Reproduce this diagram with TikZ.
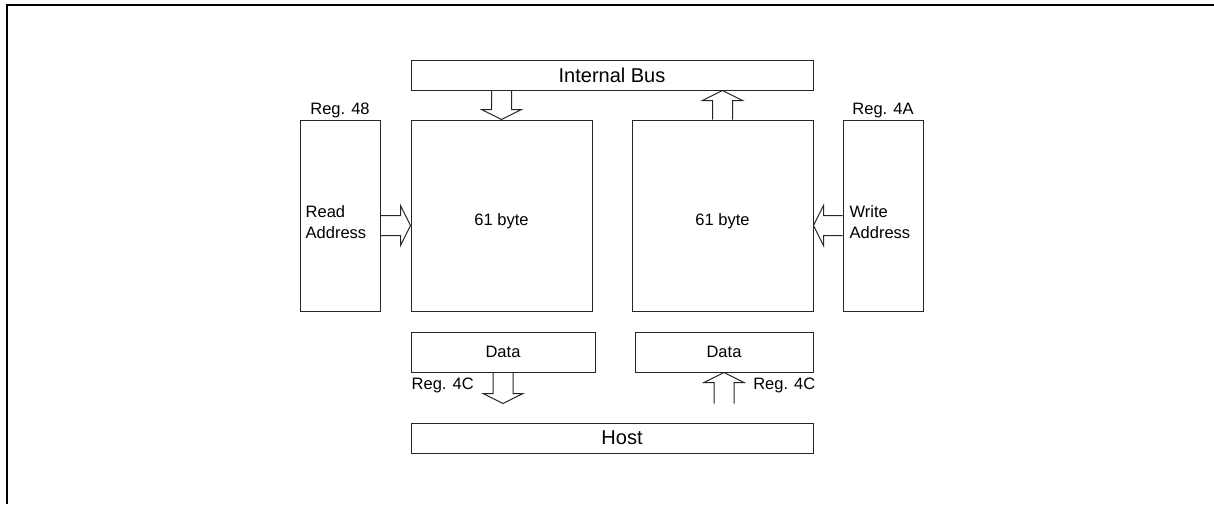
\documentclass[tikz,border=0pt]{standalone}
\usepackage{fontspec}
\setmainfont{Liberation Sans}
\usetikzlibrary{positioning,calc}

\tikzset{
  box/.style={draw=black!85, line width=1pt, inner sep=0pt, font=\fontsize{16.5}{20}\selectfont},
  txt/.style={font=\fontsize{16.5}{21}\selectfont, inner sep=0pt},
  bigtxt/.style={font=\fontsize{20}{24}\selectfont, inner sep=0pt},
  fat/.style={draw=black!85, line width=1pt, line join=miter},
}

% hollow block arrow from #1 to #2
\newcommand{\fatarrow}[2]{%
  \path ($(#2)!10pt!(#1)$) coordinate (hb);
  \draw[fat] ($(#1)!10pt!90:(#2)$) -- ($(hb)!10pt!90:(#2)$) -- ($(hb)!20pt!90:(#2)$) -- (#2)
    -- ($(hb)!20pt!-90:(#2)$) -- ($(hb)!10pt!-90:(#2)$) -- ($(#1)!10pt!-90:(#2)$);
}

\begin{document}
\begin{tikzpicture}[x=1pt,y=-1pt]
  \useasboundingbox (0,0) rectangle (1214,504);

  % frame
  \draw[line width=2.2pt] (7,504) -- (7,5) -- (1214,5);

  % buses
  \node[box, bigtxt, draw=black!85, minimum width=402pt, minimum height=30pt] (bus) at (612,75) {Internal Bus};
  \node[box, minimum width=402pt, minimum height=30pt] (host) at (612,438) {};
  \node[bigtxt] (hosttxt) at ([xshift=10pt]host.center) {Host};

  % registers and memories
  \node[box, minimum width=80pt, minimum height=191pt] (reg48) at (340,215.5) {};
  \node[box, minimum width=181pt, minimum height=191pt] (mem1) at (501.5,215.5) {};
  \node[box, minimum width=181pt, minimum height=191pt] (mem2) at (722.5,215.5) {};
  \node[box, minimum width=80pt, minimum height=191pt] (reg4a) at (883,215.5) {};

  \node[txt, above=1.5pt of reg48] (reg48lbl) {Reg. 48};
  \node[txt, above=1.5pt of reg4a] (reg4albl) {Reg. 4A};
  \node[txt, align=left, anchor=west] (readtxt) at ([xshift=6pt,yshift=-7pt]reg48.west) {Read\\Address};
  \node[txt, align=left, anchor=west] (writetxt) at ([xshift=7pt,yshift=-7pt]reg4a.west) {Write\\Address};
  \node[txt] (mem1txt) at ([yshift=-5.5pt]mem1.center) {61 byte};
  \node[txt] (mem2txt) at ([yshift=-5.5pt]mem2.center) {61 byte};

  % data registers
  \node[box, minimum width=184pt, minimum height=40pt] (data1) at (503,352) {Data};
  \node[box, minimum width=178pt, minimum height=40pt] (data2) at (724,352) {Data};
  \node[txt, anchor=base west] (reg4cl) at ([xshift=1pt,yshift=-17pt]data1.south west) {Reg. 4C};
  \node[txt, anchor=base east] (reg4cr) at ([xshift=2pt,yshift=-17pt]data2.south east) {Reg. 4C};

  % arrows
  \coordinate (busa) at (bus.south -| mem1.north);
  \coordinate (busb) at (bus.south -| mem2.north);
  \coordinate (rda) at ([yshift=-10pt]reg48.east);
  \coordinate (rdb) at ([yshift=-10pt]mem1.west);
  \coordinate (wra) at ([yshift=-10pt]reg4a.west);
  \coordinate (wrb) at ([yshift=-10pt]mem2.east);
  \coordinate (d1e) at ([yshift=-31pt]data1.south);
  \coordinate (d2s) at ([yshift=-31pt]data2.south);

  \fatarrow{busa}{mem1.north}
  \fatarrow{mem2.north}{busb}
  \fatarrow{rda}{rdb}
  \fatarrow{wra}{wrb}
  \fatarrow{data1.south}{d1e}
  \fatarrow{d2s}{data2.south}
\end{tikzpicture}
\end{document}
